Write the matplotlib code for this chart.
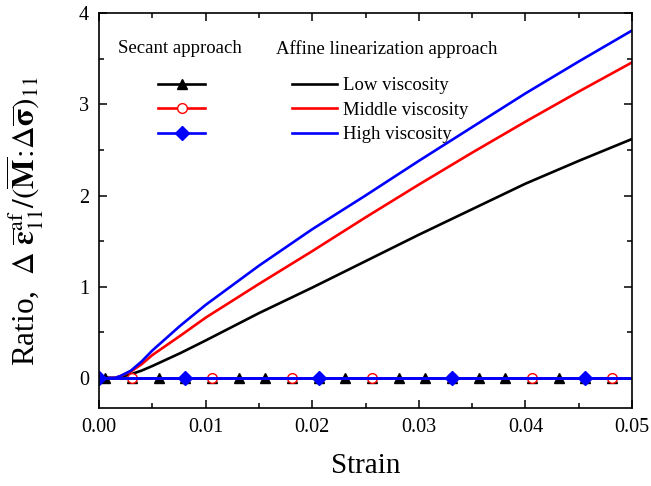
import numpy as np
import matplotlib
matplotlib.use("Agg")
import matplotlib.pyplot as plt
from matplotlib.lines import Line2D

plt.rcParams['font.family'] = ['Liberation Serif', 'DejaVu Serif']
plt.rcParams['mathtext.fontset'] = 'stix'

# affine linearization curves
strain = [0.0, 0.0015, 0.002, 0.003, 0.004, 0.005, 0.0076, 0.01, 0.015, 0.02, 0.025,
          0.03, 0.035, 0.04, 0.045, 0.05]
low    = [0.0, 0.0, 0.01, 0.04, 0.08, 0.13, 0.27, 0.41, 0.71, 0.99, 1.28,
          1.57, 1.85, 2.13, 2.38, 2.62]
middle = [0.0, 0.0, 0.02, 0.07, 0.15, 0.25, 0.46, 0.66, 1.03, 1.39, 1.76,
          2.12, 2.47, 2.81, 3.14, 3.46]
high   = [0.0, 0.0, 0.02, 0.08, 0.18, 0.30, 0.57, 0.80, 1.23, 1.63, 2.00,
          2.38, 2.75, 3.12, 3.47, 3.81]

# secant approach: ratio stays at zero
sec_low_x = [0.0, 0.0006, 0.0031, 0.0056, 0.0081, 0.0106, 0.0131, 0.0156, 0.0181, 0.0206,
             0.0231, 0.0256, 0.0281, 0.0306, 0.0331, 0.0356, 0.0381, 0.0406, 0.0431,
             0.0456, 0.0481, 0.05]
sec_mid_x = [0.0, 0.0031, 0.0106, 0.0181, 0.0256, 0.0331, 0.0406, 0.0481, 0.05]
sec_high_x = [0.0, 0.0081, 0.0206, 0.0331, 0.0456, 0.05]

fig = plt.figure(figsize=(6.51, 4.86), dpi=100)
ax = fig.add_axes([0.152, 0.1605, 0.819, 0.8125])

ax.plot(strain, low, color='black', lw=1.9)
ax.plot(strain, middle, color='red', lw=1.9)
ax.plot(strain, high, color='blue', lw=1.9)

ax.plot(sec_low_x, np.zeros(len(sec_low_x)), color='black', lw=1.9, marker='^', ms=7,
        markevery=list(range(1, len(sec_low_x) - 1)))
ax.plot(sec_mid_x, np.zeros(len(sec_mid_x)), color='red', lw=1.9, marker='o', ms=7,
        mfc='white', mec='red', mew=1.0, markevery=list(range(1, len(sec_mid_x) - 1)))
ax.plot(sec_high_x, np.zeros(len(sec_high_x)), color='blue', lw=2.1, marker='D', ms=7,
        markevery=list(range(0, len(sec_high_x) - 1)))

ax.set_xlim(0, 0.05)
ax.set_ylim(-0.33, 4)
ax.set_xticks([0, 0.01, 0.02, 0.03, 0.04, 0.05])
ax.set_xticklabels(['0.00', '0.01', '0.02', '0.03', '0.04', '0.05'])
ax.set_yticks([0, 1, 2, 3, 4])
ax.set_xticks(np.arange(0.005, 0.05, 0.01), minor=True)
ax.set_yticks([0.5, 1.5, 2.5, 3.5], minor=True)
ax.tick_params(which='both', direction='in', top=True, right=True, labelsize=14.5, width=1.1)
ax.tick_params(which='major', length=6, pad=7)
ax.tick_params(which='minor', length=3.5)
for s in ax.spines.values():
    s.set_linewidth(1.2)

ax.set_xlabel('Strain', fontsize=21, labelpad=12)
ax.set_ylabel(r'Ratio,  $\Delta\ \overline{\mathbf{\varepsilon}}_{11}^{\rm af}/(\overline{\mathbf{M}}\!:\!\Delta\overline{\mathbf{\sigma}})_{11}$',
              fontsize=22.5)
ax.yaxis.set_label_coords(-0.099, 0.475)

# legend block
ax.text(0.036, 0.91, 'Secant approach', transform=ax.transAxes, fontsize=13.5, va='center')
ax.text(0.333, 0.91, 'Affine linearization approach', transform=ax.transAxes, fontsize=13.5, va='center')
sec_handles = [
    Line2D([], [], color='black', lw=1.9, marker='^', ms=7),
    Line2D([], [], color='red', lw=1.9, marker='o', ms=7, mfc='white', mec='red', mew=1.0),
    Line2D([], [], color='blue', lw=1.9, marker='D', ms=7),
]
aff_handles = [Line2D([], [], color=c, lw=1.9) for c in ['black', 'red', 'blue']]
leg1 = ax.legend(sec_handles, ['', '', ''], loc='upper left', bbox_to_anchor=(0.094, 0.862),
                 frameon=False, handlelength=2.5, labelspacing=0.4, borderpad=0,
                 handletextpad=0, fontsize=13.5)
ax.add_artist(leg1)
ax.legend(aff_handles, ['Low viscosity', 'Middle viscosity', 'High viscosity'],
          loc='upper left', bbox_to_anchor=(0.345, 0.862), frameon=False, handlelength=2.4,
          labelspacing=0.4, borderpad=0, handletextpad=0.3, fontsize=13.5)

fig.savefig('out.png', dpi=100)
